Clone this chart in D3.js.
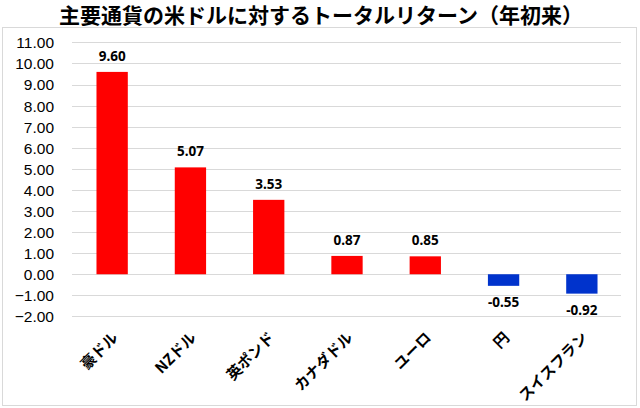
<!DOCTYPE html>
<html>
<head>
<meta charset="utf-8">
<script src="https://cdn.jsdelivr.net/npm/d3@7"></script>
<style>
  body { margin: 0; background: #fff; }
  svg { display: block; }
</style>
</head>
<body>
<div class="chart"></div>
<script>
// data
const categories = ["豪ドル", "NZドル", "英ポンド", "カナダドル", "ユーロ", "円", "スイスフラン"];
const returns = [9.60, 5.07, 3.53, 0.87, 0.85, -0.55, -0.92];
const yTicks = [11, 10, 9, 8, 7, 6, 5, 4, 3, 2, 1, 0, -1, -2];
const title = "主要通貨の米ドルに対するトータルリターン（年初来）";

const W = 640, H = 408;
const margin = { top: 42.4, right: 19, bottom: 91.6, left: 73 };
const jp = "'Noto Sans CJK JP', 'Noto Sans', sans-serif";

let svg = d3.select(".chart")
  .append("svg")
  .attr("width", W)
  .attr("height", H);

// outer frame
svg.append("rect")
  .attr("x", 2.5).attr("y", 27.5)
  .attr("width", 634).attr("height", 378)
  .attr("fill", "none")
  .attr("stroke", "#d9d9d9");

// title
svg.append("text")
  .attr("x", 321).attr("y", 23)
  .attr("text-anchor", "middle")
  .style("font-family", jp)
  .style("font-weight", "bold")
  .style("font-size", "21px")
  .text(title);

let x = d3.scaleBand()
  .domain(categories)
  .range([margin.left, W - margin.right])
  .paddingInner(0.6)
  .paddingOuter(0.3);

let y = d3.scaleLinear()
  .domain([-2, 11])
  .range([H - margin.bottom, margin.top]);

// gridlines
svg.append("g")
  .selectAll("line")
  .data(yTicks)
  .join("line")
  .attr("x1", 72).attr("x2", 621)
  .attr("y1", (d) => Math.round(y(d)) + 0.5)
  .attr("y2", (d) => Math.round(y(d)) + 0.5)
  .attr("stroke", "#d9d9d9");

// y axis labels
let yAxis = svg.append("g")
  .attr("transform", "translate(58,0)")
  .call(d3.axisLeft(y).tickValues(yTicks).tickFormat(d3.format(".2f")).tickSize(0).tickPadding(4));
yAxis.select(".domain").remove();
yAxis.selectAll("text")
  .attr("dy", "0.35em")
  .style("font-family", "'Liberation Sans', Arial, sans-serif")
  .style("font-size", "15.5px")
  .style("fill", "#000");

// bars
svg.append("g")
  .selectAll("rect")
  .data(returns)
  .join("rect")
  .attr("x", (d, i) => x(categories[i]))
  .attr("width", x.bandwidth())
  .attr("y", (d) => y(Math.max(0, d)))
  .attr("height", (d) => Math.abs(y(d) - y(0)))
  .attr("fill", (d) => (d >= 0 ? "#ff0000" : "#0033cc"));

// value labels
svg.append("g")
  .selectAll("text")
  .data(returns)
  .join("text")
  .attr("x", (d, i) => x(categories[i]) + x.bandwidth() / 2)
  .attr("y", (d) => (d >= 0 ? y(d) - 11 : y(d) + 21))
  .attr("text-anchor", "middle")
  .style("font-family", "'Noto Sans', sans-serif")
  .style("font-weight", "bold")
  .style("font-size", "13.5px")
  .text((d) => d.toFixed(2));

// category labels, rotated
svg.append("g")
  .selectAll("text")
  .data(categories)
  .join("text")
  .attr("transform", (d) => "translate(" + (x(d) + x.bandwidth() / 2 + 3) + "," + 335 + ") rotate(-45)")
  .attr("text-anchor", "end")
  .attr("dy", "0.35em")
  .style("font-family", jp)
  .style("font-weight", "bold")
  .style("font-size", "15px")
  .text((d) => d);
</script>
</body>
</html>
